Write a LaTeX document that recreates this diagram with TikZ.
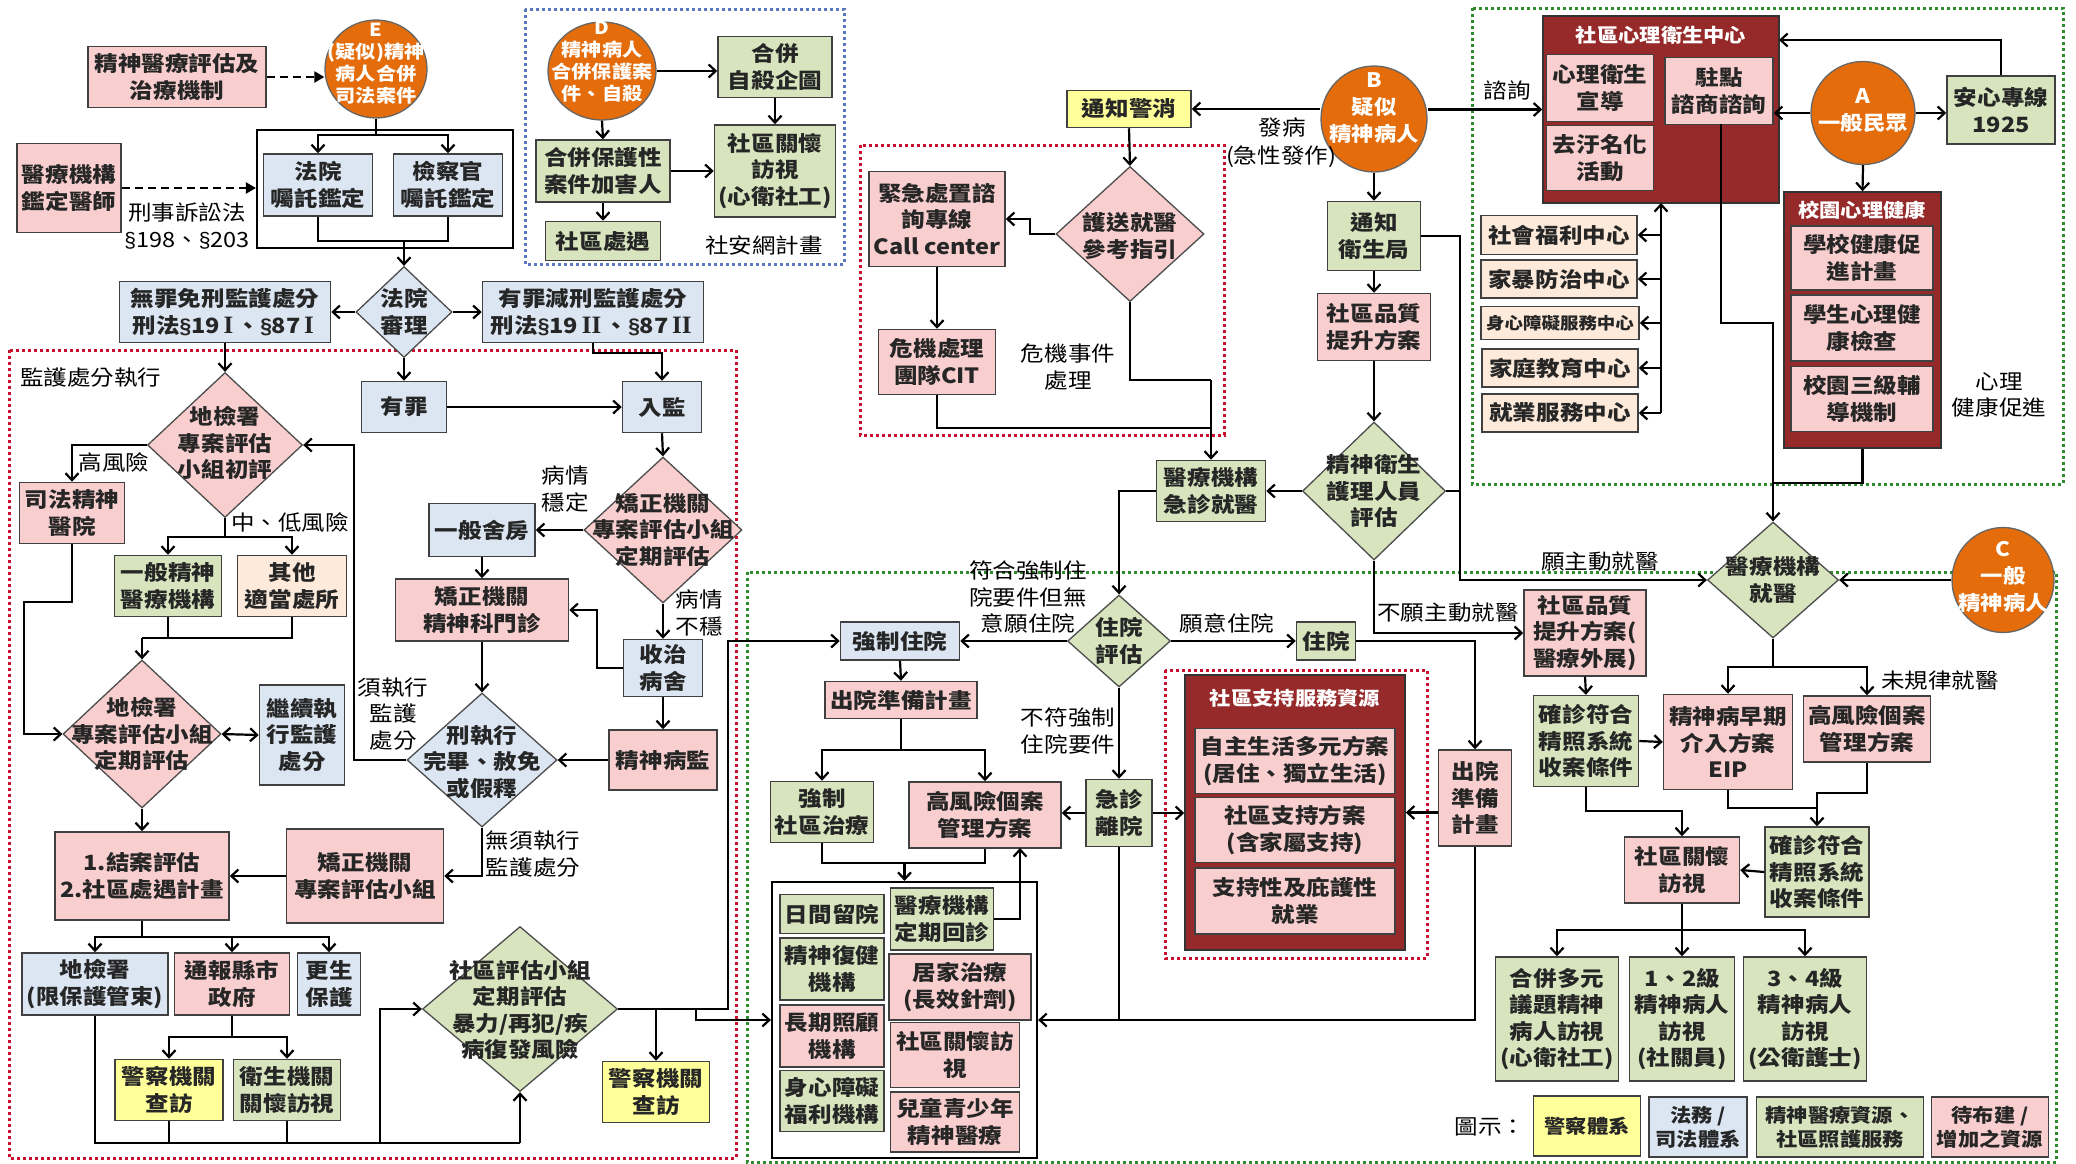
\documentclass[tikz,border=0pt]{standalone}
\usepackage{fontspec}
\setmainfont{Noto Sans CJK TC}[FakeStretch=1.12]
\newfontfamily\lat{Liberation Sans}
\newfontfamily\lsr{Liberation Serif}
\usetikzlibrary{arrows.meta,shapes.geometric}
\definecolor{cpk}{RGB}{248,206,206}
\definecolor{cbl}{RGB}{220,230,242}
\definecolor{cgn}{RGB}{215,228,189}
\definecolor{cyl}{RGB}{255,255,153}
\definecolor{ccm}{RGB}{253,234,218}
\definecolor{cog}{RGB}{228,108,10}
\definecolor{cdr}{RGB}{150,42,42}
\definecolor{rdot}{RGB}{200,16,46}
\definecolor{gdot}{RGB}{46,139,46}
\definecolor{bdot}{RGB}{90,120,190}
\newcommand\fa{\fontsize{21}{26.5}\selectfont}
\newcommand\fsm{\fontsize{16.5}{20}\selectfont}
\newcommand\flg{\fontsize{19}{24}\selectfont}
\newcommand\fel{\fontsize{18}{22}\selectfont}
\newcommand\fem{\fontsize{20}{27}\selectfont}
\newcommand\rmn[1]{\,{\lsr\fontsize{25}{26}\selectfont #1}\,}
\tikzset{
 bx/.style={draw=black!75, line width=1.5pt, align=center, inner sep=0pt, font=\fa\bfseries, text=black!85},
 wh/.style 2 args={minimum width=#1pt, minimum height=#2pt},
 nP/.style={bx, fill=cpk}, nB/.style={bx, fill=cbl}, nG/.style={bx, fill=cgn},
 nY/.style={bx, fill=cyl}, nC/.style={bx, fill=ccm},
 dk/.style={draw=black!80, line width=1.5pt, fill=cdr, inner sep=0pt},
 dia/.style={diamond, draw=black!70, line width=1.3pt, inner sep=0pt},
 ell/.style={ellipse, draw=black!60, line width=1.3pt, fill=cog, inner sep=0pt},
 wt/.style={text=white, font=\fel\bfseries, align=center, inner sep=0pt},
 lb/.style={font=\fa, align=center, inner sep=0pt},
 dt/.style={align=center, font=\fa\bfseries, inner sep=0pt, text=black!85},
 ln/.style={line width=2.2pt, draw=black},
 ar/.style={ln, -{Straight Barb[length=7pt,width=13pt]}},
 dar/.style={ln, {Straight Barb[length=7pt,width=13pt]}-{Straight Barb[length=7pt,width=13pt]}},
 da/.style={ln, dash pattern=on 8pt off 5pt, -{Triangle[length=10pt,width=11pt]}},
 frm/.style={line width=3pt, dash pattern=on 3pt off 3pt},
}
\begin{document}
\begin{tikzpicture}[x=1pt,y=-1pt]
\fill[white] (0,0) rectangle (2076,1163);
\useasboundingbox (0,0) rectangle (2076,1163);
% ---------- frames ----------
\draw[frm,draw=bdot] (525,9) rectangle (844,264);
\draw[frm,draw=rdot] (9,350) rectangle (736,1158);
\draw[frm,draw=rdot] (860,145) rectangle (1224,435);
\draw[frm,draw=gdot] (1472,8) rectangle (2063,484);
\draw[frm,draw=gdot] (747,572) rectangle (2056,1162);
\draw[frm,draw=rdot] (1165,670) rectangle (1427,958);
% ---------- top left ----------
\node[nP, wh={178}{61}] (m1) at (177,77) {精神醫療評估及\\治療機制};
\node[ell, wh={102}{98}] (E) at (376,69) {};
\node[wt] (Et) at (376,64) {E\\(疑似)精神\\病人合併\\司法案件};
\node[draw=black, line width=2.2pt, inner sep=0pt, wh={256}{118}] (fr1) at (385,189) {};
\node[nB, wh={109}{62}] (fy) at (318,185) {法院\\囑託鑑定};
\node[nB, wh={109}{62}] (jc) at (448,185) {檢察官\\囑託鑑定};
\node[nP, wh={104}{89}] (jd) at (69,188) {醫療機構\\鑑定醫師};
\node[lb] (l1) at (187,226) {刑事訴訟法\\{\lat §}198、{\lat §}203};
\node[ell, wh={108}{98}] (D) at (602,71) {};
\node[wt] (Dt) at (602,62) {D\\精神病人\\合併保護案\\件、自殺};
\node[nG, wh={134}{62}] (hp) at (603,171) {合併保護性\\案件加害人};
\node[nG, wh={115}{39}] (sc) at (603,241) {社區處遇};
\node[nG, wh={114}{61}] (hb) at (775,67) {合併\\自殺企圖};
\node[nG, wh={121}{92}] (sg) at (775,171) {社區關懷\\訪視\\(心衛社工)};
\node[lb] (l2) at (764,245) {社安網計畫};
\node[nB, wh={211}{61}] (wz) at (225,312) {無罪免刑監護處分\\刑法{\lat §}19\rmn{I}、{\lat §}87\rmn{I}};
\node[dia, fill=cbl, wh={96}{91}] (fs) at (404,312) {};
\node[dt] (fst) at (404,312) {法院\\審理};
\node[nB, wh={221}{61}] (yz) at (593,312) {有罪減刑監護處分\\刑法{\lat §}19\rmn{II}、{\lat §}87\rmn{II}};
% ---------- 監護處分執行 ----------
\node[lb, anchor=west] (l3) at (20,378) {監護處分執行};
\node[dia, fill=cpk, wh={155}{145}] (dj1) at (225,445) {};
\node[dt] (dj1t) at (225,443) {地檢署\\專案評估\\小組初評};
\node[nB, wh={85}{51}] (yg) at (404,407) {有罪};
\node[nB, wh={79}{51}] (rj) at (662,407) {入監};
\node[lb] (l4) at (114,462) {高風險};
\node[nP, wh={105}{61}] (sfy) at (72,513) {司法精神\\醫院};
\node[lb] (l5) at (290,522) {中、低風險};
\node[nG, wh={107}{61}] (yb) at (168,586) {一般精神\\醫療機構};
\node[nC, wh={109}{61}] (qt) at (292,586) {其他\\適當處所};
\node[dia, fill=cpk, wh={158}{148}] (dj2) at (142,734) {};
\node[dt] (dj2t) at (142,734) {地檢署\\專案評估小組\\定期評估};
\node[nB, wh={85}{100}] (jx) at (302,735) {繼續執\\行監護\\處分};
\node[lb] (l6) at (393,714) {須執行\\監護\\處分};
\node[dia, fill=cbl, wh={150}{134}] (xz) at (482,760) {};
\node[dt] (xzt) at (482,762) {刑執行\\完畢、赦免\\或假釋};
\node[nB, wh={106}{53}] (ss) at (482,530) {一般舍房};
\node[dia, fill=cpk, wh={158}{146}] (jd1) at (663,530) {};
\node[dt] (jd1t) at (663,530) {矯正機關\\專案評估小組\\定期評估};
\node[lb] (l7) at (565,489) {病情\\穩定};
\node[nP, wh={173}{62}] (mz) at (482,610) {矯正機關\\精神科門診};
\node[lb] (l8) at (699,613) {病情\\不穩};
\node[nB, wh={79}{57}] (sz) at (663,668) {收治\\病舍};
\node[nP, wh={108}{60}] (jb) at (663,760) {精神病監};
\node[nP, wh={174}{88}] (ja) at (142,876) {1.結案評估\\2.社區處遇計畫};
\node[nP, wh={157}{94}] (jz) at (365,876) {矯正機關\\專案評估小組};
\node[lb] (l9) at (533,854) {無須執行\\監護處分};
\node[nB, wh={146}{62}] (dj3) at (95,984) {地檢署\\(限保護管束)};
\node[nP, wh={115}{62}] (tb) at (232,984) {通報縣市\\政府};
\node[nB, wh={63}{62}] (gs) at (329,984) {更生\\保護};
\node[nY, wh={108}{61}] (pc1) at (169,1090) {警察機關\\查訪};
\node[nG, wh={107}{61}] (ws) at (287,1090) {衛生機關\\關懷訪視};
\node[dia, fill=cgn, wh={195}{165}] (sq) at (520,1009) {};
\node[dt] (sqt) at (520,1010) {社區評估小組\\定期評估\\暴力/再犯/疾\\病復發風險};
\node[nY, wh={107}{61}] (pc2) at (656,1092) {警察機關\\查訪};
% ---------- middle ----------
\node[nY, wh={124}{37}] (tz) at (1129,109) {通知警消};
\node[ell, wh={106}{106}] (B) at (1374,119) {};
\node[wt, font=\fem\bfseries] (Bt) at (1374,108) {B\\疑似\\精神病人};
\node[lb] (l10) at (1282,128) {發病};
\node[lb] (l11) at (1281,157) {(急性發作)};
\node[dia, fill=cpk, wh={148}{135}] (hs) at (1130,234) {};
\node[dt] (hst) at (1130,236) {護送就醫\\參考指引};
\node[nP, wh={136}{95}] (cc) at (937,219) {緊急處置諮\\詢專線\\Call center};
\node[nP, wh={117}{65}] (cit) at (937,362) {危機處理\\團隊CIT};
\node[lb] (l12) at (1068,367) {危機事件\\處理};
\node[nG, wh={109}{61}] (jzy) at (1211,491) {醫療機構\\急診就醫};
\node[dia, fill=cgn, wh={143}{138}] (jw) at (1374,491) {};
\node[dt] (jwt) at (1374,491) {精神衛生\\護理人員\\評估};
\node[nG, wh={93}{69}] (tw) at (1374,236) {通知\\衛生局};
\node[nP, wh={113}{67}] (sp1) at (1374,327) {社區品質\\提升方案};
\node[dia, fill=cgn, wh={103}{92}] (zp) at (1119,641) {};
\node[dt] (zpt) at (1119,641) {住院\\評估};
\node[nB, wh={119}{38}] (qz) at (900,641) {強制住院};
\node[lb] (l13) at (1028,597) {符合強制住\\院要件但無\\意願住院};
\node[lb] (l14) at (1227,623) {願意住院};
\node[nG, wh={59}{38}] (zy) at (1326,641) {住院};
\node[lb] (l15) at (1448,613) {不願主動就醫};
\node[nP, wh={152}{37}] (cb) at (901,700) {出院準備計畫};
\node[nG, wh={103}{61}] (qs) at (822,812) {強制\\社區治療};
\node[nP, wh={152}{66}] (gf1) at (985,815) {高風險個案\\管理方案};
\node[lb] (l16) at (1068,731) {不符強制\\住院要件};
\node[nG, wh={66}{67}] (jl) at (1119,813) {急診\\離院};
\node[dk, wh={220}{275}] (sd) at (1295,812.5) {};
\node[wt, font=\flg\bfseries] (sdt) at (1295,698) {社區支持服務資源};
\node[nP, wh={200}{65}] (s1) at (1295,761) {自主生活多元方案\\(居住、獨立生活)};
\node[nP, wh={200}{65}] (s2) at (1295,830) {社區支持方案\\(含家屬支持)};
\node[nP, wh={200}{66}] (s3) at (1295,901) {支持性及庇護性\\就業};
\node[nP, wh={73}{96}] (cy) at (1475,798) {出院\\準備\\計畫};
\node[draw=black, line width=2.2pt, inner sep=0pt, wh={265}{276}] (ct) at (904.5,1020) {};
\node[nG, wh={104}{39}] (d1) at (832,914) {日間留院};
\node[nG, wh={104}{62}] (d2) at (832,969) {精神復健\\機構};
\node[nP, wh={104}{62}] (d3) at (832,1036) {長期照顧\\機構};
\node[nG, wh={104}{61}] (d4) at (832,1101) {身心障礙\\福利機構};
\node[nG, wh={103}{62}] (hz) at (942,919) {醫療機構\\定期回診};
\node[nP, wh={142}{66}] (jj) at (960,987) {居家治療\\(長效針劑)};
\node[nP, wh={129}{65}] (gh) at (955,1055) {社區關懷訪\\視};
\node[nP, wh={129}{60}] (et) at (955,1122) {兒童青少年\\精神醫療};
% ---------- right ----------
\node[dk, wh={236}{187}] (sx) at (1661,109.5) {};
\node[wt, font=\flg\bfseries] (sxt) at (1661,35) {社區心理衛生中心};
\node[nP, wh={107}{67}] (x1) at (1600,88) {心理衛生\\宣導};
\node[nP, wh={107}{65}] (x2) at (1600,158) {去汙名化\\活動};
\node[nP, wh={108}{67}] (zd) at (1719,91) {駐點\\諮商諮詢};
\node[lb] (l17) at (1507,90) {諮詢};
\node[ell, wh={104}{103}] (A) at (1863,113) {};
\node[wt, font=\fem\bfseries] (At) at (1863,111) {A\\一般民眾};
\node[nG, wh={108}{68}] (ax) at (2001,110) {安心專線\\1925};
\node[dk, wh={157}{256}] (xy) at (1862.5,320) {};
\node[wt, font=\flg\bfseries] (xyt) at (1862,210) {校園心理健康};
\node[nP, wh={142}{64}] (y1) at (1862,258) {學校健康促\\進計畫};
\node[nP, wh={142}{66}] (y2) at (1862,328) {學生心理健\\康檢查};
\node[nP, wh={142}{65}] (y3) at (1862,399) {校園三級輔\\導機制};
\node[lb] (l18) at (1999,395) {心理\\健康促進};
\node[nC, wh={156}{39}] (w1) at (1559,235) {社會福利中心};
\node[nC, wh={156}{38}] (w2) at (1559,279) {家暴防治中心};
\node[nC, wh={158}{33}, font=\fsm\bfseries] (w3) at (1560,323) {身心障礙服務中心};
\node[nC, wh={156}{38}] (w4) at (1560,368) {家庭教育中心};
\node[nC, wh={156}{38}] (w5) at (1560,413) {就業服務中心};
\node[dia, fill=cgn, wh={131}{116}] (yj) at (1773,580) {};
\node[dt] (yjt) at (1773,580) {醫療機構\\就醫};
\node[ell, wh={102}{105}] (C) at (2003,580) {};
\node[wt, font=\fem\bfseries] (Ct) at (2003,577) {C\\一般\\精神病人};
\node[lb] (l19) at (1600,562) {願主動就醫};
\node[nP, wh={122}{86}] (sp2) at (1585,633) {社區品質\\提升方案(\\醫療外展)};
\node[nG, wh={105}{91}] (qz2) at (1586,741) {確診符合\\精照系統\\收案條件};
\node[nP, wh={129}{95}] (eip) at (1728,742) {精神病早期\\介入方案\\EIP};
\node[nP, wh={127}{66}] (gf2) at (1867,729) {高風險個案\\管理方案};
\node[lb] (l20) at (1940,680) {未規律就醫};
\node[nG, wh={104}{90}] (qz3) at (1817,872) {確診符合\\精照系統\\收案條件};
\node[nP, wh={115}{66}] (sgv) at (1682,870) {社區關懷\\訪視};
\node[nG, wh={123}{124}] (v1) at (1557,1019) {合併多元\\議題精神\\病人訪視\\(心衛社工)};
\node[nG, wh={105}{124}] (v2) at (1682,1019) {1、2級\\精神病人\\訪視\\(社關員)};
\node[nG, wh={123}{124}] (v3) at (1805,1019) {3、4級\\精神病人\\訪視\\(公衛護士)};
\node[lb] (l21) at (1490,1127) {圖示：};
\node[nY, wh={107}{60}, font=\flg\bfseries] (g1) at (1587,1126) {警察體系};
\node[nB, wh={98}{60}, font=\flg\bfseries] (g2) at (1698,1127) {法務 /\\司法體系};
\node[nG, wh={167}{60}, font=\flg\bfseries] (g3) at (1840,1127) {精神醫療資源、\\社區照護服務};
\node[nP, wh={117}{60}, font=\flg\bfseries] (g4) at (1990,1127) {待布建 /\\增加之資源};
% ---------- connectors: top left ----------
\draw[da] (m1.east) -- (m1.east -| E.west);
\draw[da] (jd.east) -- (jd.east -| fr1.west);
\draw[ar] (E.south) |- (318,135) -- (fy.north);
\draw[ar] (E.south) |- (448,135) -- (jc.north);
\draw[ln] (fy.south) |- (448,241) -- (jc.south);
\draw[ar] (404,241) -- (fs.north);
\draw[ar] (fs.west) -- (wz.east);
\draw[ar] (fs.east) -- (yz.west);
\draw[ar] (wz.south) -- (dj1.north);
\draw[ar] (fs.south) -- (yg.north);
\draw[ar] (yz.south) |- (662,353) -- (rj.north);
\draw[ar] (yg.east) -- (rj.west);
\draw[ar] (dj1.west) -| (sfy.north);
\draw[ln] (dj1.south) -- (225,537);
\draw[ar] (225,537) -| (yb.north);
\draw[ar] (225,537) -| (qt.north);
\draw[ln] (qt.south) |- (142,638);
\draw[ln] (yb.south) -- (168,638);
\draw[ar] (142,638) -- (dj2.north);
\draw[ar] (sfy.south) |- (24,602) |- (dj2.west);
\draw[dar] (dj2.east) -- (jx.west);
\draw[ar] (xz.west) -| (354,445) -- (dj1.east);
\draw[ar] (rj.south) -- (jd1.north);
\draw[ar] (jd1.west) -- (ss.east);
\draw[ar] (ss.south) -- (mz.north);
\draw[ar] (mz.south) -- (xz.north);
\draw[ar] (jd1.south) -- (sz.north);
\draw[ar] (sz.west) -| (597,610) -- (mz.east);
\draw[ar] (sz.south) -- (jb.north);
\draw[ar] (jb.west) -- (xz.east);
\draw[ar] (dj2.south) -- (ja.north);
\draw[ar] (xz.south) |- (jz.east);
\draw[ar] (jz.west) -- (ja.east);
\draw[ln] (ja.south) -- (142,937);
\draw[ar] (142,937) -| (dj3.north);
\draw[ar] (142,937) -| (tb.north);
\draw[ar] (142,937) -| (gs.north);
\draw[ln] (tb.south) -- (232,1037);
\draw[ar] (232,1037) -| (pc1.north);
\draw[ar] (232,1037) -| (ws.north);
\draw[ln] (dj3.south) |- (520,1143);
\draw[ar] (520,1143) -- (sq.south);
\draw[ln] (pc1.south) -- (169,1143);
\draw[ln] (ws.south) -- (287,1143);
\draw[ar] (380,1143) |- (sq.west);
\draw[ar] (sq.east) -| (728,641) -- (qz.west);
\draw[ar] (656,1009) -- (pc2.north);
\draw[ar] (696,1009) |- (ct.west);
% ---------- D ----------
\draw[ar] (D.east) -- (D.east -| hb.west);
\draw[ar] (D.south) -- (hp.north);
\draw[ar] (hp.south) -- (sc.north);
\draw[ar] (hb.south) -- (sg.north);
\draw[ar] (hp.east) -- (sg.west);
% ---------- crisis ----------
\draw[ar] (tz.east -| B.west) -- (tz.east);
\draw[ar] (tz.south) -- (hs.north);
\draw[ar] (hs.west) -| (1030,219) -- (cc.east);
\draw[ar] (cc.south) -- (cit.north);
\draw[ln] (hs.south) |- (1211,380);
\draw[ln] (cit.south) |- (1211,428);
\draw[ar] (1211,380) -- (jzy.north);
% ---------- B chain ----------
\draw[ar] (B.south) -- (tw.north);
\draw[ar] (tw.south) -- (sp1.north);
\draw[ar] (sp1.south) -- (jw.north);
\draw[ar] (jw.west) -- (jzy.east);
\draw[ar] (jzy.west) -| (zp.north);
\draw[ar] (zp.west) -- (qz.east);
\draw[ar] (zp.east) -- (zy.west);
\draw[ar] (zp.south) -- (jl.north);
\draw[ar] (jw.south) |- (sp2.west);
\draw[ar] (tw.east) -| (1460,580) -- (yj.west);
\draw[ln] (jw.east) -- (1460,491);
\draw[ar] (zy.east) -| (cy.north);
\draw[ar] (qz.south) -- (cb.north);
\draw[ln] (cb.south) -- (901,750);
\draw[ar] (901,750) -| (qs.north);
\draw[ar] (901,750) -| (gf1.north);
\draw[ln] (qs.south) |- (985,863) -- (gf1.south);
\draw[ar] (904.5,863) -- (ct.north);
\draw[ar] (jl.west) -- (jl.west -| gf1.east);
\draw[ar] (jl.east) -- (jl.east -| sd.west);
\draw[ar] (cy.west |- sd.east) -- (sd.east);
\draw[ar] (cy.south) |- (ct.east);
\draw[ln] (jl.south) -- (jl.south |- ct.east);
\draw[ar] (hz.east) -| (1020,848);
% ---------- right ----------
\draw[ar] (B.east |- sx.west) -- (sx.west);
\draw[ar] (A.west) -- (A.west -| zd.east);
\draw[ar] (A.east) -- (A.east -| ax.west);
\draw[ar] (ax.north) |- (1779,40);
\draw[ar] (A.south) -- (xy.north);
\draw[ar] (1661,413) -- (1661,203);
\draw[ar] (1661,235) -- (w1.east);
\draw[ar] (1661,279) -- (w2.east);
\draw[ar] (1661,323) -- (w3.east);
\draw[ar] (1661,368) -- (w4.east);
\draw[ar] (1661,413) -- (w5.east);
\draw[ar] (1721,124) |- (1773,323) -- (yj.north);
\draw[ln] (xy.south) |- (1773,483);
\draw[ar] (C.west) -- (yj.east);
\draw[ln] (yj.south) -- (1773,667);
\draw[ar] (1773,667) -| (eip.north);
\draw[ar] (1773,667) -| (gf2.north);
\draw[ar] (sp2.south) -- (qz2.north);
\draw[ar] (qz2.east) -- (eip.west);
\draw[ar] (qz2.south) |- (1682,811) -- (sgv.north);
\draw[ln] (eip.south) |- (1817,808);
\draw[ar] (gf2.south) |- (1817,793) -- (qz3.north);
\draw[ar] (qz3.west) -- (sgv.east);
\draw[ln] (sgv.south) -- (1682,930);
\draw[ar] (1682,930) -| (v1.north);
\draw[ar] (1682,930) -- (v2.north);
\draw[ar] (1682,930) -| (v3.north);
\end{tikzpicture}
\end{document}
